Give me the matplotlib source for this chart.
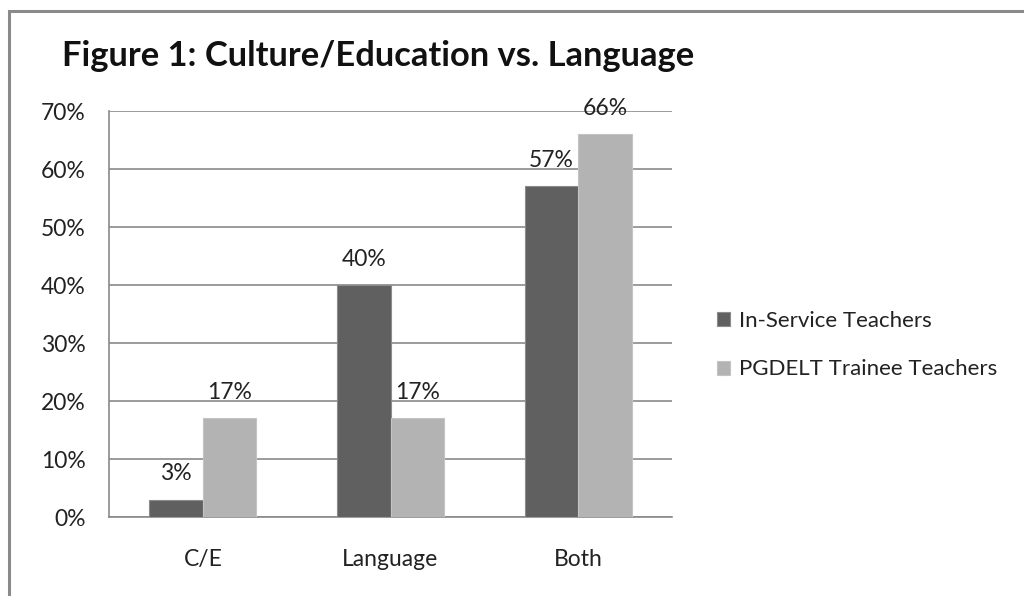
import matplotlib
matplotlib.use("Agg")
import matplotlib.pyplot as plt
from matplotlib.patches import Rectangle
import numpy as np

categories = ["C/E", "Language", "Both"]
series_names = ["In-Service Teachers", "PGDELT Trainee Teachers"]
in_service = [3, 40, 57]
pgdelt = [17, 17, 66]
value_labels_in = ["3%", "40%", "57%"]
value_labels_pg = ["17%", "17%", "66%"]
yticks = [0, 10, 20, 30, 40, 50, 60, 70]
ytick_labels = ["0%", "10%", "20%", "30%", "40%", "50%", "60%", "70%"]
title = "Figure 1: Culture/Education vs. Language"

plt.rcParams['font.family'] = ['Lato', 'DejaVu Sans']

W, H = 1024, 596
fig = plt.figure(figsize=(W / 100, H / 100), dpi=100)
fig.patch.set_facecolor("white")

# outer border
fig.patches.append(Rectangle((9 / W, -0.1), 1.2, 1 - 11 / H + 0.1, transform=fig.transFigure,
                             fill=False, edgecolor="#8a8a8a", linewidth=2.2, zorder=0))

ax = fig.add_axes([109 / W, 1 - 517 / H, (672 - 109) / W, (517 - 111) / H])
x = np.arange(len(categories))
bw = 0.285
dark = "#606060"
light = "#b3b3b3"
fs = 16.5
b1 = ax.bar(x - bw / 2, in_service, bw, color=dark, edgecolor="#8c8c8c", linewidth=0.8,
            label=series_names[0], zorder=3)
b2 = ax.bar(x + bw / 2, pgdelt, bw, color=light, edgecolor="#c4c4c4", linewidth=0.8,
            label=series_names[1], zorder=3)

for xi, v, t in zip(x - bw / 2, in_service, value_labels_in):
    ax.annotate(t, (xi, v), xytext=(0, 11), textcoords="offset points", ha="center",
                va="bottom", fontsize=fs, color="#222222", zorder=4)
for xi, v, t in zip(x + bw / 2, pgdelt, value_labels_pg):
    ax.annotate(t, (xi, v), xytext=(0, 11), textcoords="offset points", ha="center",
                va="bottom", fontsize=fs, color="#222222", zorder=4)

ax.set_xlim(-0.5, 2.5)
ax.set_ylim(0, 70)
ax.set_yticks(yticks)
ax.set_yticklabels(ytick_labels)
ax.set_xticks(x)
ax.set_xticklabels(categories)
ax.yaxis.grid(True, color="#8a8a8a", linewidth=1.2, zorder=0)
ax.set_axisbelow(True)
for s in ["top", "right"]:
    ax.spines[s].set_visible(False)
ax.spines["left"].set_color("#8a8a8a")
ax.spines["bottom"].set_color("#8a8a8a")
ax.spines["left"].set_linewidth(1.2)
ax.spines["bottom"].set_linewidth(1.2)
ax.tick_params(axis="both", length=0, labelsize=fs, colors="#222222")
ax.tick_params(axis="y", pad=17)
ax.tick_params(axis="x", pad=23)

fig.text(62 / W, 1 - 56 / H, title, fontsize=24.8, fontweight="bold", color="#111111",
         ha="left", va="center")

leg = fig.legend(handles=[b1, b2], labels=series_names, loc="center left",
                 bbox_to_anchor=(697 / W, 1 - 345 / H), frameon=False, fontsize=16,
                 handlelength=0.6, handleheight=0.6, handletextpad=0.4, labelspacing=1.3,
                 labelcolor="#222222")

fig.savefig("out.png", dpi=100, facecolor="white")
